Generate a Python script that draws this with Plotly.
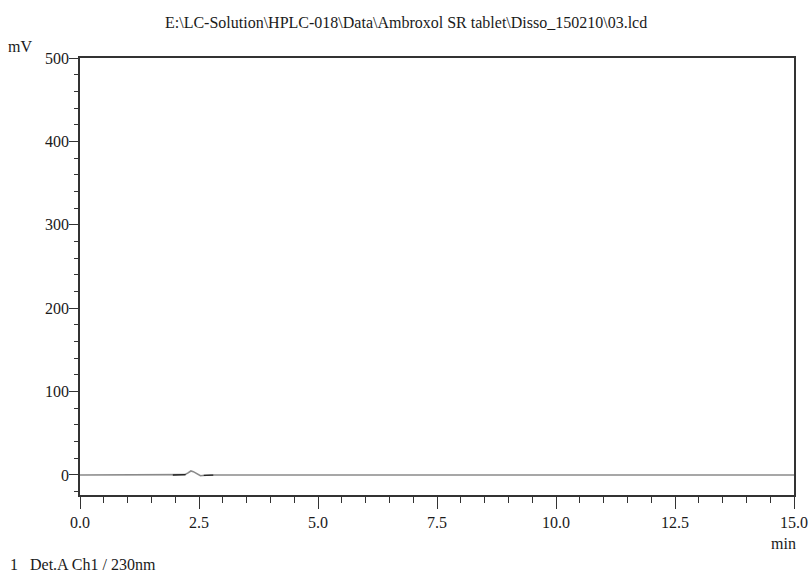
import plotly.graph_objects as go

# Chromatogram: detector A, channel 1 at 230 nm
time_min = [0.0, 1.90, 2.00, 2.10, 2.20, 2.27, 2.33, 2.38, 2.43, 2.48, 2.53, 2.58, 2.65, 2.75, 3.00, 15.0]
signal_mv = [0.0, 0.0, -0.3, 0.0, 0.4, 2.5, 4.8, 4.0, 2.2, 0.4, -0.9, -0.6, -0.2, 0.0, 0.0, 0.0]

# Short integration-baseline marks around the peak
mark_time = [1.95, 2.22, None, 2.60, 2.80]
mark_mv = [0.0, 0.4, None, -0.5, -0.2]

x_ticks = [0.0, 2.5, 5.0, 7.5, 10.0, 12.5, 15.0]
x_tick_labels = ["0.0", "2.5", "5.0", "7.5", "10.0", "12.5", "15.0"]
y_ticks = [0, 100, 200, 300, 400, 500]

title_text = "E:\\LC-Solution\\HPLC-018\\Data\\Ambroxol SR tablet\\Disso_150210\\03.lcd"
font_family = "Liberation Serif, Times New Roman, serif"
ink = "#1a1a1a"

W, H = 810, 573
ML, MR, MT, MB = 80, 16, 58, 78


def px_to_paper(px, py):
    return (px - ML) / (W - ML - MR), (H - MB - py) / (H - MT - MB)


def label(text, px, py, xanchor="center", size=16):
    x, y = px_to_paper(px, py)
    return dict(text=text, x=x, y=y, xref="paper", yref="paper", showarrow=False,
                xanchor=xanchor, yanchor="middle",
                font=dict(family=font_family, size=size, color=ink))


fig = go.Figure()
fig.add_trace(go.Scatter(
    x=time_min, y=signal_mv, mode="lines",
    line=dict(color="#8a8a8a", width=1.6),
    showlegend=False, hoverinfo="skip",
))
fig.add_trace(go.Scatter(
    x=mark_time, y=mark_mv, mode="lines",
    line=dict(color="#222222", width=1.4),
    showlegend=False, hoverinfo="skip",
))

axis_common = dict(
    showgrid=False, zeroline=False, automargin=False,
    showline=True, linecolor="#333333", linewidth=1.5, mirror=True,
    tickcolor="#333333", tickfont=dict(family=font_family, size=16, color=ink),
)

fig.update_layout(
    width=W, height=H,
    margin=dict(l=ML, r=MR, t=MT, b=MB),
    paper_bgcolor="white", plot_bgcolor="white",
    font=dict(family=font_family, size=16, color=ink),
    showlegend=False,
    xaxis=dict(
        range=[0, 15], tickvals=x_ticks, ticktext=x_tick_labels,
        ticks="outside", ticklen=12, tickwidth=1.2,
        minor=dict(dtick=0.5, ticks="outside", ticklen=6, tickwidth=1.2, tickcolor="#333333"),
        **axis_common,
    ),
    yaxis=dict(
        range=[-24, 500], tickvals=y_ticks,
        ticks="outside", ticklen=9, tickwidth=1.2, ticklabelstandoff=-3,
        minor=dict(dtick=20, ticks="outside", ticklen=4, tickwidth=1.2, tickcolor="#333333"),
        **axis_common,
    ),
    annotations=[
        label(title_text, 406, 22),
        label("mV", 20, 46),
        label("min", 783, 543),
        label("1\u00a0\u00a0\u00a0Det.A Ch1 / 230nm", 8, 564, xanchor="left"),
    ],
)

fig.write_html("out.html")
